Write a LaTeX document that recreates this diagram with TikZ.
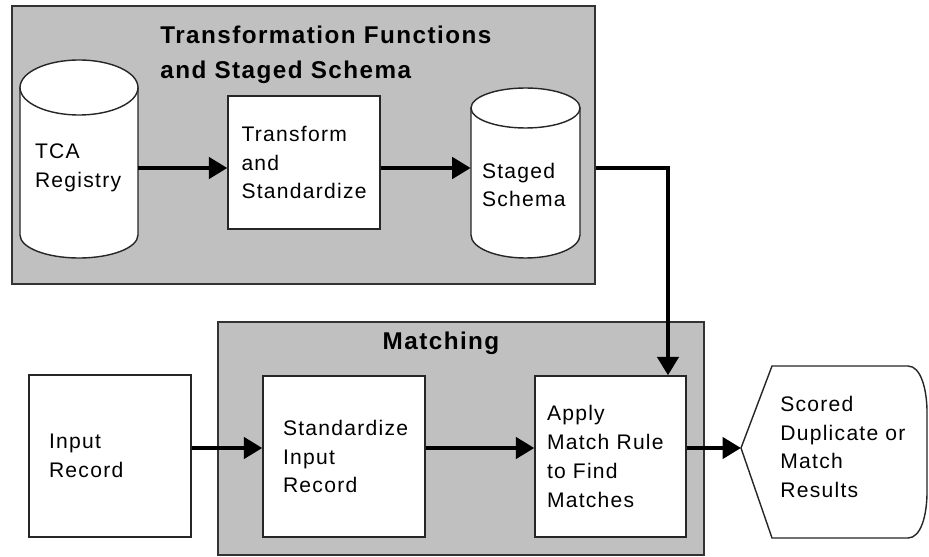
\documentclass[tikz,border=0pt]{standalone}
\usepackage{fontspec}
\setmainfont{Liberation Sans}[LetterSpace=6]
\usetikzlibrary{arrows.meta, positioning}
\definecolor{panelgray}{RGB}{192,192,192}
\tikzset{
  panel/.style      = {draw=black!80, fill=panelgray, line width=0.8pt, inner sep=0pt},
  paneltitle/.style = {font=\bfseries\fontsize{13.8}{19.8}\selectfont, align=left, inner sep=0pt},
  procbox/.style    = {draw=black!85, fill=white, line width=0.8pt, align=left,
                       font=\fontsize{12}{16.4}\selectfont, inner ysep=0pt},
  dbtext/.style     = {align=left, font=\fontsize{12}{16.4}\selectfont, inner ysep=0pt},
  cyl/.style        = {draw=black!85, fill=white, line width=0.8pt},
  flow/.style       = {-{Triangle[length=10.5pt, width=12pt]}, line width=2.4pt},
}

\begin{document}
\begin{tikzpicture}[x=0.02cm, y=-0.02cm]
    \useasboundingbox (0,0) rectangle (929,557);

    % panels
    \node[panel, minimum width=11.66cm, minimum height=5.56cm] (tfpanel) at (303.5,145) {};
    \node[panel, minimum width=9.72cm, minimum height=4.66cm]  (mpanel)  at (461,438.5) {};
    \node[paneltitle, anchor=west] (tftitle) at (160,54.5) {Transformation Functions\\and Staged Schema};
    \node[paneltitle] (mtitle) at (441,343) {Matching};

    % cylinders
    \draw[cyl] (20,87.5) -- (20,235) arc[start angle=180, end angle=360, x radius=1.18cm, y radius=0.46cm] -- (138,87.5) -- cycle;
    \draw[cyl] (79,87.5) ellipse[x radius=1.18cm, y radius=0.55cm];
    \draw[cyl] (471,108) -- (471,235) arc[start angle=180, end angle=360, x radius=1.09cm, y radius=0.46cm] -- (580,108) -- cycle;
    \draw[cyl] (525.5,108) ellipse[x radius=1.09cm, y radius=0.4cm];
    \node[dbtext, minimum width=2.36cm, text width=1.76cm, inner xsep=0.3cm]  (tca) at (79,168)    {TCA\\Registry};
    \node[dbtext, minimum width=2.18cm, text width=1.74cm, inner xsep=0.22cm] (stg) at (525.5,185) {Staged\\Schema};

    % boxes
    \node[procbox, minimum width=3.04cm, minimum height=2.66cm, text width=2.5cm,  inner xsep=0.27cm] (trf)   at (304,162.5)   {Transform\\and\\Standardize};
    \node[procbox, minimum width=3.24cm, minimum height=3.24cm, text width=2.44cm, inner xsep=0.4cm]  (inrec) at (110,456)     {Input\\Record};
    \node[procbox, minimum width=3.24cm, minimum height=3.22cm, text width=2.44cm, inner xsep=0.4cm]  (std)   at (344,456.5)   {Standardize\\Input\\Record};
    \node[procbox, minimum width=3.02cm, minimum height=3.22cm, text width=2.54cm, inner xsep=0.24cm] (apply) at (610.5,456.5) {Apply\\Match Rule\\to Find\\Matches};

    % display shape
    \coordinate (outtip) at (741,448);
    \draw[cyl] (772,366) -- (908,366) .. controls (921,366) and (927,390) .. (927,412)
      -- (927,492) .. controls (927,515) and (921,538) .. (908,538) -- (772,538) -- (outtip) -- cycle;
    \node[dbtext, anchor=west, inner xsep=0pt] (result) at (780,447) {Scored\\Duplicate or\\Match\\Results};

    % connectors
    \draw[flow] (tca.east) -- (trf.west |- tca.east);
    \draw[flow] (trf.east |- tca.east) -- (stg.west |- tca.east);
    \draw[flow] (tfpanel.east |- tca.east) -| ([xshift=1.15cm]apply.north);
    \draw[flow] (inrec.east |- outtip) -- (std.west |- outtip);
    \draw[flow] (std.east |- outtip) -- (apply.west |- outtip);
    \draw[flow] (apply.east |- outtip) -- (outtip);
\end{tikzpicture}
\end{document}
